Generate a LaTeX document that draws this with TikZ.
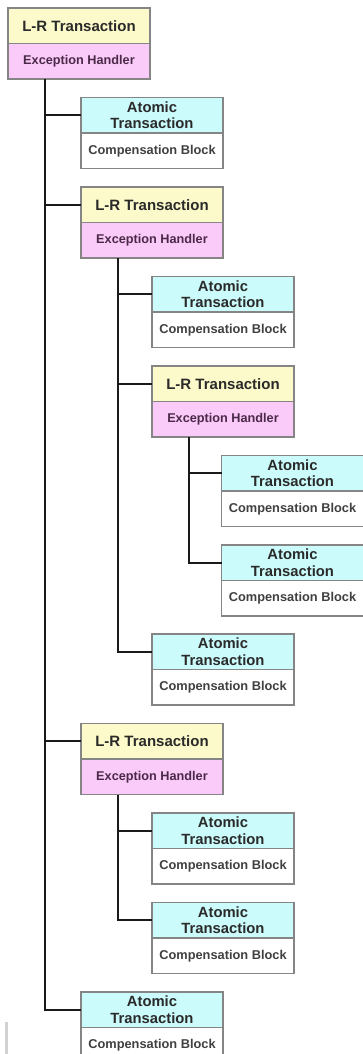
\documentclass[tikz,border=0pt]{standalone}
\usepackage{fontspec}
\setmainfont{Liberation Sans}
\usetikzlibrary{positioning}
\definecolor{lryellow}{HTML}{FCFACA}
\definecolor{ehpink}{HTML}{FACAF8}
\definecolor{atcyan}{HTML}{CCFBFB}
\definecolor{boxgrey}{HTML}{858585}
\definecolor{ehtext}{HTML}{4A2A48}
\definecolor{txtgrey}{HTML}{2A2A2A}
\definecolor{cbtext}{HTML}{404040}
\definecolor{linkblack}{HTML}{1A1A1A}
\definecolor{bargrey}{HTML}{D2D2D2}

\begin{document}
\begin{tikzpicture}[x=1pt,y=-1pt,
  part/.style={draw=boxgrey,line width=1.1pt,minimum width=142pt,minimum height=35.5pt,
    inner sep=0pt,outer sep=0pt,align=center},
  lrpart/.style={part,anchor=north west,fill=lryellow,text=txtgrey,font=\fontsize{15}{17}\selectfont\bfseries},
  ehpart/.style={part,below=0pt of #1,fill=ehpink,text=ehtext,font=\fontsize{12.7}{14}\selectfont\bfseries},
  atpart/.style={part,anchor=north west,fill=atcyan,text=txtgrey,font=\fontsize{14.8}{16.5}\selectfont\bfseries},
  cbpart/.style={part,below=0pt of #1,fill=white,text=cbtext,font=\fontsize{12.8}{14}\selectfont\bfseries},
  link/.style={draw=linkblack,line width=2.3pt}]
 \useasboundingbox (0,0) rectangle (363,1054);

 \node[lrpart] (lr1) at (8,8) {L-R Transaction};
  \node[ehpart=lr1] (eh1) {Exception Handler};
 \node[atpart] (at1) at (81,97.5) {Atomic\\Transaction};
  \node[cbpart=at1] (cb1) {Compensation Block};
 \node[lrpart] (lr2) at (81,187) {L-R Transaction};
  \node[ehpart=lr2] (eh2) {Exception Handler};
 \node[atpart] (at2) at (152,276.5) {Atomic\\Transaction};
  \node[cbpart=at2] (cb2) {Compensation Block};
 \node[lrpart] (lr3) at (152,366) {L-R Transaction};
  \node[ehpart=lr3] (eh3) {Exception Handler};
 \node[atpart] (at3) at (221.5,455.5) {Atomic\\Transaction};
  \node[cbpart=at3] (cb3) {Compensation Block};
 \node[atpart] (at4) at (221.5,545) {Atomic\\Transaction};
  \node[cbpart=at4] (cb4) {Compensation Block};
 \node[atpart] (at5) at (152,634) {Atomic\\Transaction};
  \node[cbpart=at5] (cb5) {Compensation Block};
 \node[lrpart] (lr4) at (81,723.5) {L-R Transaction};
  \node[ehpart=lr4] (eh4) {Exception Handler};
 \node[atpart] (at6) at (152,813) {Atomic\\Transaction};
  \node[cbpart=at6] (cb6) {Compensation Block};
 \node[atpart] (at7) at (152,902.5) {Atomic\\Transaction};
  \node[cbpart=at7] (cb7) {Compensation Block};
 \node[atpart] (at8) at (81,992) {Atomic\\Transaction};
  \node[cbpart=at8] (cb8) {Compensation Block};

 \draw[link] ([xshift=-34pt]eh1.south) |- (at1.west);
 \draw[link] ([xshift=-34pt]eh1.south) |- (lr2.west);
 \draw[link] ([xshift=-34pt]eh1.south) |- (lr4.west);
 \draw[link] ([xshift=-34pt]eh1.south) |- (at8.west);
 \draw[link] ([xshift=-34pt]eh2.south) |- (at2.west);
 \draw[link] ([xshift=-34pt]eh2.south) |- (lr3.west);
 \draw[link] ([xshift=-34pt]eh2.south) |- (at5.west);
 \draw[link] ([xshift=-34pt]eh3.south) |- (at3.west);
 \draw[link] ([xshift=-34pt]eh3.south) |- (at4.west);
 \draw[link] ([xshift=-34pt]eh4.south) |- (at6.west);
 \draw[link] ([xshift=-34pt]eh4.south) |- (at7.west);

 \fill[bargrey] (5,1022) rectangle (8,1054);
\end{tikzpicture}
\end{document}
